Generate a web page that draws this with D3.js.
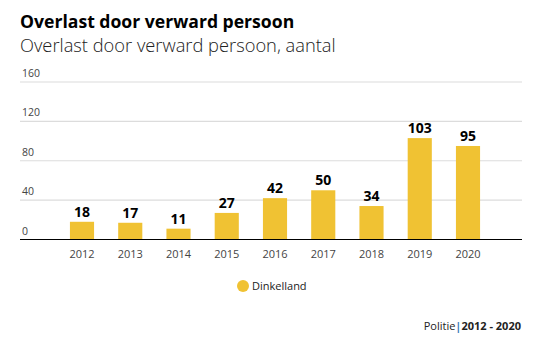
<!DOCTYPE html>
<html>
<head>
<meta charset="utf-8">
<script src="https://d3js.org/d3.v7.min.js"></script>
<style>
  body { margin: 0; background: #fff; }
  text { font-family: "Open Sans", Lato, sans-serif; }
</style>
</head>
<body>
<script>
var years = ["2012", "2013", "2014", "2015", "2016", "2017", "2018", "2019", "2020"];
var dinkelland = [18, 17, 11, 27, 42, 50, 34, 103, 95];
var yTicks = [0, 40, 80, 120, 160];

var width = 537, height = 341;
var plotLeft = 20, plotRight = 522, plotTop = 82, plotBottom = 239.5;

var svg = d3.select("body").append("svg")
    .attr("width", width).attr("height", height);

// titles
svg.append("text").attr("x", 20).attr("y", 28)
    .style("font-size", "17.6px").style("font-weight", 700).attr("fill", "#000")
    .text("Overlast door verward persoon");
svg.append("text").attr("x", 20).attr("y", 52)
    .style("font-size", "18.3px").style("font-weight", 300).attr("fill", "#222")
    .text("Overlast door verward persoon, aantal");

var y = d3.scaleLinear().domain([0, 160]).range([plotBottom, plotTop]);

var x = d3.scaleBand().domain(years)
    .range([82 - 48.25 / 2, 468 + 48.25 / 2])
    .paddingInner(0.5).paddingOuter(0.25);

// gridlines with labels sitting above them
var grid = svg.append("g");
grid.selectAll("line").data(yTicks.filter(d => d > 0)).enter().append("line")
    .attr("x1", plotLeft).attr("x2", plotRight)
    .attr("y1", d => y(d)).attr("y2", d => y(d))
    .attr("stroke", "#dcdcdc").attr("stroke-width", 1.2);
grid.selectAll("text").data(yTicks).enter().append("text")
    .attr("x", 22).attr("y", d => y(d) - 5)
    .style("font-size", "10.5px").attr("fill", "#444")
    .text(d => d);

// bars
svg.append("g").selectAll("rect").data(dinkelland).enter().append("rect")
    .attr("x", (d, i) => x(years[i]))
    .attr("y", d => y(d))
    .attr("width", x.bandwidth())
    .attr("height", d => y(0) - y(d))
    .attr("fill", "#f0c233");

// value labels
svg.append("g").selectAll("text").data(dinkelland).enter().append("text")
    .attr("x", (d, i) => x(years[i]) + x.bandwidth() / 2)
    .attr("y", d => y(d) - 5)
    .attr("text-anchor", "middle")
    .style("font-size", "14px").style("font-weight", 700).attr("fill", "#000")
    .text(d => d);

// baseline
svg.append("line").attr("x1", plotLeft).attr("x2", plotRight)
    .attr("y1", plotBottom).attr("y2", plotBottom)
    .attr("stroke", "#000").attr("stroke-width", 1.2);

// x axis labels
var xAxis = d3.axisBottom(x).tickSize(0).tickPadding(11);
svg.append("g").attr("transform", "translate(0," + plotBottom + ")")
    .call(xAxis)
    .call(g => g.select(".domain").remove())
    .call(g => g.selectAll("text")
        .style("font-size", "11px").style("font-family", "'Open Sans', sans-serif").attr("fill", "#444"));

// legend
svg.append("circle").attr("cx", 243).attr("cy", 286).attr("r", 6).attr("fill", "#f0c233");
svg.append("text").attr("x", 252).attr("y", 290)
    .style("font-size", "11px").attr("fill", "#222").text("Dinkelland");

// source
var src = svg.append("text").attr("x", 521).attr("y", 330).attr("text-anchor", "end")
    .style("font-size", "11px").attr("fill", "#222");
src.append("tspan").text("Politie");
src.append("tspan").attr("fill", "#3a7ab8").style("font-weight", 700).text("|");
src.append("tspan").style("font-weight", 700).text("2012 - 2020");
</script>
</body>
</html>
